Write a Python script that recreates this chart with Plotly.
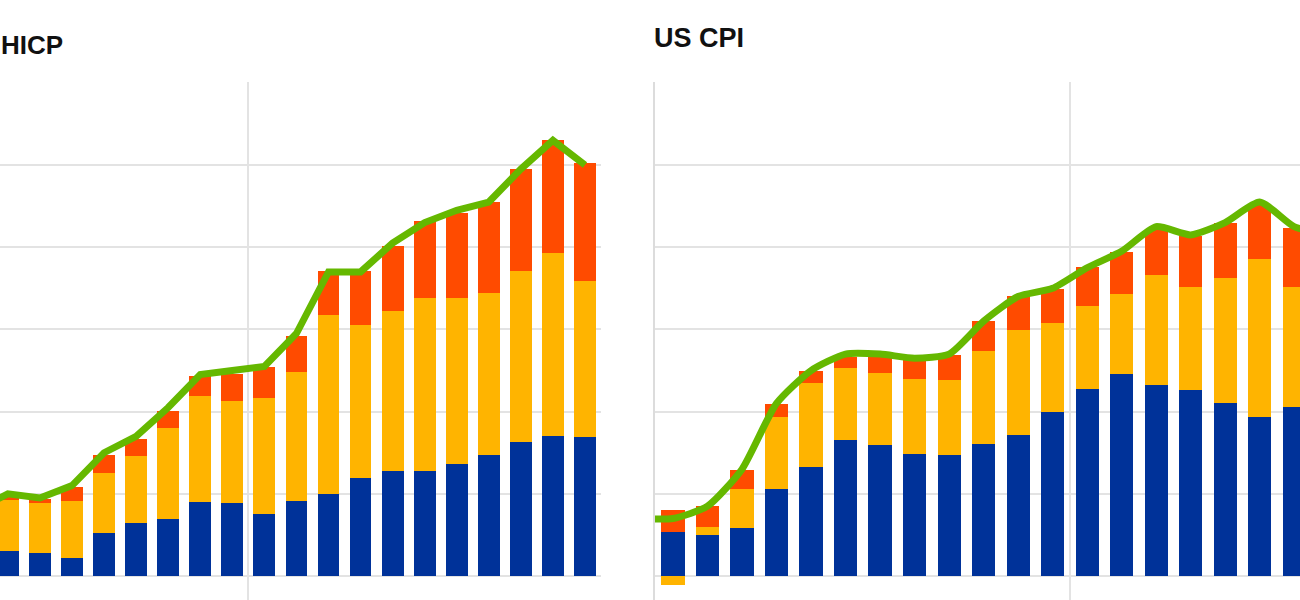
import plotly.graph_objects as go

# ---------------- data ----------------
hicp_months = ["May 2021", "Jun 2021", "Jul 2021", "Aug 2021", "Sep 2021", "Oct 2021",
               "Nov 2021", "Dec 2021", "Jan 2022", "Feb 2022", "Mar 2022", "Apr 2022",
               "May 2022", "Jun 2022", "Jul 2022", "Aug 2022", "Sep 2022", "Oct 2022",
               "Nov 2022"]
hicp_blue = [0.61, 0.55, 0.45, 1.05, 1.28, 1.38, 1.79, 1.78, 1.51, 1.83, 2.00, 2.39,
             2.55, 2.55, 2.73, 2.94, 3.25, 3.41, 3.38]
hicp_yellow = [1.24, 1.22, 1.37, 1.46, 1.65, 2.22, 2.59, 2.48, 2.81, 3.14, 4.36, 3.71,
               3.89, 4.21, 4.04, 3.94, 4.18, 4.45, 3.81]
hicp_red = [0.10, 0.10, 0.35, 0.44, 0.40, 0.42, 0.48, 0.66, 0.76, 0.88, 1.06, 1.32,
            1.58, 1.87, 2.06, 2.21, 2.47, 2.75, 2.85]
# headline line (starts one month earlier; earlier month only visible as line entering from the edge)
hicp_line_months = ["Apr 2021"] + hicp_months
hicp_total = [1.6, 2.0, 1.9, 2.2, 3.0, 3.4, 4.1, 4.9, 5.0, 5.1, 5.9, 7.4, 7.4,
              8.1, 8.6, 8.9, 9.1, 9.9, 10.6, 10.0]

us_months = ["Jan 2021", "Feb 2021", "Mar 2021", "Apr 2021", "May 2021", "Jun 2021",
             "Jul 2021", "Aug 2021", "Sep 2021", "Oct 2021", "Nov 2021", "Dec 2021",
             "Jan 2022", "Feb 2022", "Mar 2022", "Apr 2022", "May 2022", "Jun 2022",
             "Jul 2022"]
us_blue = [1.08, 1.00, 1.18, 2.11, 2.66, 3.30, 3.20, 2.96, 2.94, 3.22, 3.44, 3.99,
           4.54, 4.91, 4.66, 4.52, 4.22, 3.87, 4.11]
us_yellow = [-0.22, 0.20, 0.93, 1.76, 2.04, 1.76, 1.74, 1.83, 1.82, 2.25, 2.54, 2.16,
             2.04, 1.94, 2.67, 2.52, 3.04, 3.85, 2.93]
us_red = [0.52, 0.50, 0.48, 0.32, 0.30, 0.28, 0.39, 0.46, 0.63, 0.73, 0.83, 0.84,
          0.93, 1.03, 1.12, 1.24, 1.32, 1.33, 1.44]
us_line_months = ["Dec 2020"] + us_months + ["Aug 2022"]
us_total = [1.4, 1.4, 1.7, 2.6, 4.2, 5.0, 5.4, 5.4, 5.3, 5.4, 6.2, 6.8, 7.0,
            7.5, 7.9, 8.5, 8.3, 8.6, 9.1, 8.5, 8.3]

panel_titles = ["HICP", "US CPI"]

# ---------------- style ----------------
BLUE = "#003299"
YELLOW = "#FFB400"
RED = "#FF4B00"
GREEN = "#65B800"
GRID = "#e3e3e3"

fig = go.Figure()

panels = [
    (hicp_months, hicp_blue, hicp_yellow, hicp_red, hicp_line_months, hicp_total,
     "x", "y", "linear", 0.68),
    (us_months, us_blue, us_yellow, us_red, us_line_months, us_total,
     "x2", "y2", "spline", 0.67),
]
for months, b, yl, r, lmonths, tot, xa, ya, shape, bw in panels:
    xs = list(range(len(months)))
    for vals, col in ((b, BLUE), (yl, YELLOW), (r, RED)):
        fig.add_trace(go.Bar(x=xs, y=vals, customdata=months, marker_color=col,
                             marker_line_width=0, width=bw, xaxis=xa, yaxis=ya,
                             hovertemplate="%{customdata}: %{y}<extra></extra>"))
    offset = lmonths.index(months[0])
    lx = [i - offset for i in range(len(lmonths))]
    fig.add_trace(go.Scatter(x=lx, y=tot, customdata=lmonths, mode="lines",
                             line=dict(color=GREEN, width=7, shape=shape, smoothing=0.6),
                             xaxis=xa, yaxis=ya, cliponaxis=True,
                             hovertemplate="%{customdata}: %{y}<extra></extra>"))

yax = dict(range=[-0.583, 12.02], tick0=0, dtick=2, showgrid=True, gridcolor=GRID,
           gridwidth=2, zeroline=False, showticklabels=False, ticks="")

fig.update_layout(
    width=1300, height=600,
    margin=dict(l=0, r=0, t=82, b=0),
    barmode="relative", bargap=0,
    showlegend=False,
    plot_bgcolor="white", paper_bgcolor="white",
    xaxis=dict(domain=[0, 601 / 1300], range=[-0.246, 18.50], tickvals=[7.5],
               showgrid=True, gridcolor=GRID, gridwidth=2, zeroline=False,
               showticklabels=False, ticks="", anchor="y"),
    yaxis=dict(yax, anchor="x"),
    xaxis2=dict(domain=[655 / 1300, 1.0], range=[-0.522, 18.17], tickvals=[11.5],
                showgrid=True, gridcolor=GRID, gridwidth=2, zeroline=False,
                showticklabels=False, ticks="", anchor="y2"),
    yaxis2=dict(yax, anchor="x2", showline=True, linecolor="#dcdcdc", linewidth=2),
    font=dict(family="Liberation Sans, Arial, sans-serif"),
)

fig.add_annotation(text="<b>" + panel_titles[0] + "</b>", xref="paper", yref="paper",
                   x=-0.001, y=(600 - 45) / 518, xanchor="left", yanchor="middle",
                   showarrow=False, font=dict(size=26, color="#111111"))
fig.add_annotation(text="<b>" + panel_titles[1] + "</b>", xref="paper", yref="paper",
                   x=652 / 1300, y=(600 - 38.5) / 518, xanchor="left", yanchor="middle",
                   showarrow=False, font=dict(size=27, color="#111111"))

fig.write_html("out.html", config={"displayModeBar": False},
               post_script="document.body.style.margin='0';")
